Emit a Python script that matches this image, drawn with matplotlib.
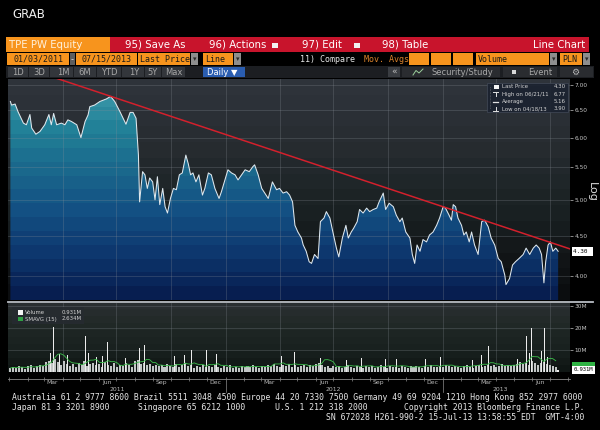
import numpy as np
import pandas as pd
import matplotlib
matplotlib.use('Agg')
import matplotlib.pyplot as plt
import matplotlib.dates as mdates
import matplotlib.transforms as mtransforms
from matplotlib.patches import Rectangle, Polygon
from matplotlib.ticker import FixedLocator, FuncFormatter, NullLocator
from matplotlib.colors import to_rgb
from matplotlib import font_manager

# ---- data (TPE PW Equity, daily, 01/03/2011 - 07/15/2013) ----
start = pd.Timestamp('2011-01-03')

# days since 2011-01-03, last price (PLN)
days = [0, 2, 8, 13, 22, 27, 33, 36, 43, 50,
        58, 65, 69, 73, 78, 86, 92, 97, 103, 112,
        119, 126, 131, 134, 142, 151, 162, 169, 176, 185,
        195, 202, 207, 212, 216, 218, 223, 227, 231, 235,
        240, 244, 248, 252, 257, 261, 265, 270, 275, 280,
        285, 290, 296, 300, 304, 308, 313, 318, 324, 328,
        334, 339, 345, 352, 356, 362, 367, 373, 379, 384,
        390, 396, 403, 409, 412, 418, 424, 429, 435, 442,
        449, 454, 460, 466, 471, 476, 480, 485, 491, 494,
        499, 504, 508, 513, 519, 523, 529, 533, 539, 544,
        550, 554, 560, 566, 570, 575, 579, 585, 589, 595,
        601, 606, 612, 618, 622, 629, 633, 639, 646, 651,
        657, 661, 667, 674, 678, 682, 686, 691, 696, 702,
        707, 713, 719, 724, 730, 734, 740, 744, 747, 751,
        755, 761, 765, 769, 774, 778, 783, 789, 795, 800,
        806, 811, 817, 823, 828, 834, 836, 842, 847, 852,
        858, 865, 870, 876, 882, 887, 892, 896, 900, 903,
        907, 911, 915, 920, 924]
prices = [6.67, 6.60, 6.62, 6.47, 6.26, 6.23, 6.42, 6.17, 6.06, 6.11,
          6.23, 6.42, 6.23, 6.44, 6.23, 6.26, 6.23, 6.32, 6.29, 6.23,
          6.00, 6.29, 6.41, 6.57, 6.60, 6.67, 6.72, 6.77, 6.67, 6.47,
          6.24, 6.46, 6.46, 6.35, 5.70, 4.97, 5.43, 5.38, 5.17, 5.33,
          5.27, 5.00, 5.35, 4.93, 5.17, 4.90, 4.81, 5.02, 5.17, 5.15,
          5.38, 5.41, 5.70, 5.56, 5.38, 5.41, 5.27, 5.38, 5.07, 5.17,
          5.41, 5.38, 5.17, 5.02, 5.12, 5.30, 5.46, 5.41, 5.38, 5.30,
          5.38, 5.46, 5.43, 5.51, 5.54, 5.38, 5.17, 5.10, 5.02, 5.27,
          5.15, 5.17, 5.10, 5.12, 5.07, 4.97, 4.64, 4.55, 4.47, 4.38,
          4.30, 4.17, 4.15, 4.26, 4.21, 4.69, 4.74, 4.83, 4.74, 4.55,
          4.34, 4.23, 4.47, 4.64, 4.47, 4.55, 4.60, 4.69, 4.86, 4.81,
          4.88, 4.83, 4.86, 4.88, 4.97, 5.10, 4.86, 4.95, 4.90, 4.78,
          4.69, 4.74, 4.55, 4.47, 4.26, 4.15, 4.38, 4.30, 4.45, 4.42,
          4.51, 4.55, 4.64, 4.74, 4.90, 4.88, 4.78, 4.71, 4.93, 4.90,
          4.74, 4.64, 4.51, 4.55, 4.42, 4.55, 4.38, 4.26, 4.69, 4.71,
          4.62, 4.47, 4.38, 4.21, 4.17, 4.01, 3.90, 3.97, 4.13, 4.17,
          4.21, 4.26, 4.34, 4.26, 4.34, 4.38, 4.34, 4.26, 3.92, 4.17,
          4.38, 4.42, 4.30, 4.34, 4.30]

# trend line drawn on the chart
trend_days = [75, 944]
trend_prices = [7.15, 4.33]

# legend figures
last_price = 4.30
high_label, high_val = 'High on 06/21/11', 6.77
avg_val = 5.16
low_label, low_val = 'Low on 04/18/13', 3.90

# volume (millions), every 5 days
grass_step = 5
grass_vol = [1.8, 2.4, 1.6, 2.9, 2.2, 1.5, 2.6, 3.1, 2.0, 2.7,
             3.4, 2.8, 4.6, 5.2, 3.9, 6.1, 4.4, 3.2, 4.8, 3.6,
             2.9, 3.8, 2.5, 4.1, 3.3, 5.0, 2.7, 3.5, 4.2, 3.0,
             3.6, 2.4, 4.4, 3.1, 2.8, 3.9, 2.2, 3.3, 2.6, 4.0,
             3.2, 2.5, 4.8, 5.5, 3.7, 4.2, 3.0, 3.8, 2.9, 3.4,
             2.6, 3.1, 2.2, 3.5, 2.8, 2.1, 3.6, 2.4, 3.0, 3.9,
             2.7, 3.3, 2.0, 2.9, 2.4, 3.4, 2.1, 2.8, 2.5, 3.2,
             2.3, 1.8, 2.7, 2.2, 3.0, 1.9, 2.5, 2.0, 2.8, 2.4,
             2.6, 2.1, 3.1, 2.4, 1.9, 2.8, 2.2, 3.3, 2.6, 3.6,
             2.9, 2.3, 3.4, 2.7, 3.8, 2.5, 3.2, 2.1, 2.8, 3.0,
             2.4, 3.1, 2.6, 3.7, 4.2, 3.3, 2.5, 2.9, 2.0, 2.6,
             2.2, 2.8, 1.9, 2.5, 3.1, 2.3, 1.8, 2.7, 2.4, 2.0,
             2.6, 2.1, 2.9, 1.8, 2.4, 3.0, 2.2, 1.9, 2.7, 2.3,
             2.5, 2.0, 2.8, 2.2, 1.7, 2.6, 2.1, 2.9, 2.4, 1.9,
             2.7, 2.2, 3.0, 2.5, 2.1, 2.8, 2.4, 3.2, 2.6, 2.3,
             2.8, 2.3, 2.0, 2.6, 3.1, 2.4, 1.9, 2.7, 3.3, 2.5,
             2.9, 3.4, 2.6, 3.0, 2.4, 2.8, 3.5, 2.7, 3.2, 2.9,
             3.1, 3.8, 4.5, 3.6, 4.2, 3.3, 4.8, 3.9, 3.4, 4.1,
             4.4, 3.7, 3.2, 2.8, 2.5]
# high-volume days
peak_days = [67, 73, 77, 83, 96, 126, 132, 145, 155, 164,
             195, 218, 227, 277, 293, 306, 331, 348, 443, 457,
             480, 523, 529, 567, 593, 632, 651, 700, 726, 780,
             795, 807, 856, 871, 876, 879, 896, 901, 906]
peak_vol = [8.6, 20.6, 19.0, 8.0, 7.6, 16.5, 8.6, 6.8, 7.5, 13.8,
            6.3, 10.8, 12.3, 7.5, 7.9, 10.0, 10.0, 8.0, 11.0, 7.5,
            9.2, 6.4, 28.2, 5.5, 6.4, 6.0, 6.0, 6.0, 7.0, 5.5,
            7.7, 12.0, 5.7, 16.5, 8.6, 19.9, 9.5, 19.9, 7.0]
last_volume = 0.931
smavg_last = 2.634

price_ticks = [4.00, 4.50, 5.00, 5.50, 6.00, 6.50, 7.00]
vol_ticks = [10, 20, 30]

# ---- helpers ----
W, H = 600, 430
avail = {f.name for f in font_manager.fontManager.ttflist}
narrow = 'Liberation Sans Narrow' in avail
bar_font = 'Liberation Sans Narrow' if narrow else 'DejaVu Sans'
bar_size = 8.8 if narrow else 7.3
MONO = 'DejaVu Sans Mono'
ORANGE = '#f7941d'


def px_rect(x0, y0, x1, y1):
    return [x0 / W, 1 - y1 / H, (x1 - x0) / W, (y1 - y0) / H]


def grad(stops, bands):
    pos = np.array([s[0] for s in stops])
    cols = np.array([to_rgb(s[1]) for s in stops])
    t = (np.arange(bands) + 0.5) / bands
    img = np.stack([np.interp(t, pos, cols[:, k]) for k in range(3)], axis=-1)
    return img[:, None, :]


def to_num(d):
    return mdates.date2num(start + pd.to_timedelta(np.asarray(d), unit='D'))


x_p = to_num(days)
x_lo, x_hi = to_num([-4, 944])

fig = plt.figure(figsize=(6, 4.3), dpi=100, facecolor='black')

# ---- price panel ----
ax = fig.add_axes(px_rect(8, 79, 570, 300))
ax.set_yscale('log')
ax.set_xlim(x_lo, x_hi)
ax.set_ylim(3.728, 7.124)
ax.set_autoscale_on(False)
for s in ax.spines.values():
    s.set_visible(False)

bg = grad([(0, '#30353c'), (0.3, '#272c31'), (0.55, '#1c2325'),
           (0.8, '#121618'), (1, '#0a0c0e')], 14)
ax.imshow(bg, extent=(0, 1, 0, 1), transform=ax.transAxes, aspect='auto',
          interpolation='nearest', origin='upper', zorder=0)

fill = grad([(0, '#3f9cac'), (0.07, '#3795a7'), (0.23, '#218097'),
             (0.41, '#1a688c'), (0.59, '#145184'), (0.77, '#0e3970'),
             (1, '#061a4b')], 16)
im = ax.imshow(fill, extent=(0, 1, 0, 1), transform=ax.transAxes, aspect='auto',
               interpolation='nearest', origin='upper', zorder=1)
verts = np.column_stack([np.r_[x_p[0], x_p, x_p[-1]], np.r_[1.0, prices, 1.0]])
clip = Polygon(verts, closed=True, transform=ax.transData)
im.set_clip_path(clip)

grid_kw = dict(color='#8a9098', lw=0.6, alpha=0.3, zorder=2)
for v in price_ticks:
    ax.axhline(v, **grid_kw)
quarters = mdates.date2num(pd.date_range('2011-04-01', '2013-07-01', freq='QS'))
for q in quarters:
    ax.axvline(q, **grid_kw)

ax.plot(x_p, prices, color='#dfe8ee', lw=0.75, zorder=3)
ax.plot(to_num(trend_days), trend_prices, color='#d3202c', lw=1.1, zorder=4)

ax.yaxis.set_major_locator(FixedLocator(price_ticks))
ax.yaxis.set_minor_locator(NullLocator())
ax.yaxis.set_major_formatter(FuncFormatter(lambda v, p: f'{v:.2f}'))
ax.tick_params(axis='y', which='major', left=False, labelleft=False, right=True,
               labelright=True, length=2.2, width=0.6, color='#a0a0a0',
               labelsize=4.2, labelcolor='#c4c4c4', pad=1.0)
ax.tick_params(axis='x', which='both', bottom=False, labelbottom=False)

blend_p = mtransforms.blended_transform_factory(ax.transAxes, ax.transData)
ax.text(1.006, last_price, f'{last_price:.2f} ', transform=blend_p, fontsize=4.3,
        color='black', ha='left', va='center', family=MONO, clip_on=False, zorder=6,
        bbox=dict(boxstyle='square,pad=0.3', fc='white', ec='none'))

# ---- volume panel ----
av = fig.add_axes(px_rect(8, 303, 570, 372), sharex=ax)
av.set_xlim(x_lo, x_hi)
av.set_ylim(0, 31.4)
av.set_autoscale_on(False)
for k in ('top', 'left', 'right'):
    av.spines[k].set_visible(False)
vbg = grad([(0, '#2b2f33'), (0.35, '#202826'), (0.7, '#18201e'), (1, '#0e1412')], 10)
av.imshow(vbg, extent=(0, 1, 0, 1), transform=av.transAxes, aspect='auto',
          interpolation='nearest', origin='upper', zorder=0)
for v in vol_ticks:
    av.axhline(v, **grid_kw)
for q in quarters:
    av.axvline(q, **grid_kw)

grass_days = np.arange(0, len(grass_vol) * grass_step, grass_step)
av.bar(to_num(grass_days), grass_vol, width=3.4, color='#c2c6c6', lw=0, zorder=2)
av.bar(to_num(peak_days), peak_vol, width=1.6, color='#ececec', lw=0, zorder=3)
av.bar(to_num([days[-1]]), [last_volume], width=2.2, color='#ececec', lw=0, zorder=3)

# 15-day average: baseline volume plus high-volume days spread over 15 sessions
g = pd.Series(grass_vol, index=start + pd.to_timedelta(grass_days, unit='D'))
g_mean = g.rolling('21D').mean()
pk_days = np.asarray(peak_days)
pk_vol = np.asarray(peak_vol)
extra = np.array([pk_vol[(pk_days <= d) & (pk_days > d - 21)].sum() for d in grass_days])
smavg = g_mean.values + extra / 15.0
av.plot(to_num(grass_days), smavg, color='#3cbf4c', lw=0.6, zorder=4)

av.yaxis.set_major_locator(FixedLocator(vol_ticks))
av.yaxis.set_major_formatter(FuncFormatter(lambda v, p: f'{v:.0f}M'))
av.tick_params(axis='y', which='major', left=False, labelleft=False, right=True,
               labelright=True, length=2.2, width=0.6, color='#a0a0a0',
               labelsize=4.2, labelcolor='#c4c4c4', pad=1.0)

av.spines['bottom'].set_position(('outward', 5))
av.spines['bottom'].set_color('#8a8a8a')
av.spines['bottom'].set_linewidth(0.6)
av.xaxis.set_major_locator(mdates.MonthLocator(bymonth=[3, 6, 9, 12], bymonthday=15))
av.xaxis.set_major_formatter(mdates.DateFormatter('%b'))
av.xaxis.set_minor_locator(mdates.MonthLocator())
av.tick_params(axis='x', which='major', length=0, labelsize=4.4,
               labelcolor='#b8b8b8', pad=0.6)
av.tick_params(axis='x', which='minor', length=2.5, width=0.5,
               direction='inout', color='#8a8a8a')

blend_x = mtransforms.blended_transform_factory(av.transData, av.transAxes)
end_date = start + pd.Timedelta(days=days[-1])
for yr in (2011, 2012, 2013):
    a = max(start, pd.Timestamp(f'{yr}-01-01'))
    b = min(end_date, pd.Timestamp(f'{yr}-12-31'))
    c = a + (b - a) / 2
    av.text(mdates.date2num(c), -0.25, str(yr), transform=blend_x, fontsize=4.4,
            color='#b8b8b8', ha='center', va='center')
    if yr > 2011:
        xs = mdates.date2num(pd.Timestamp(f'{yr}-01-01'))
        av.plot([xs, xs], [-0.13, -0.29], transform=blend_x, color='#8a8a8a',
                lw=0.5, clip_on=False)

blend_v = mtransforms.blended_transform_factory(av.transAxes, av.transData)
av.text(1.006, smavg_last, '      ', transform=blend_v, fontsize=4.0, family=MONO,
        ha='left', va='center', clip_on=False, zorder=6,
        bbox=dict(boxstyle='square,pad=0.3', fc='#2fb344', ec='none'))
av.text(1.006, last_volume, f'{last_volume:.3f}M', transform=blend_v, fontsize=4.0,
        color='black', family=MONO, ha='left', va='center', clip_on=False, zorder=7,
        bbox=dict(boxstyle='square,pad=0.3', fc='white', ec='none'))

# ---- screen furniture (pixel coordinates) ----
ui = fig.add_axes([0, 0, 1, 1], zorder=5)
ui.set_xlim(0, W)
ui.set_ylim(H, 0)
ui.axis('off')
ui.patch.set_visible(False)


def box(x0, y0, x1, y1, fc, ec='none', lw=0, alpha=1.0):
    ui.add_patch(Rectangle((x0, y0), x1 - x0, y1 - y0, facecolor=fc,
                           edgecolor=ec, linewidth=lw, alpha=alpha))


def txt(x, y, s, size=6, color='white', ha='left', family='DejaVu Sans', **kw):
    ui.text(x, y, s, fontsize=size, color=color, ha=ha, va='center',
            family=family, **kw)


txt(12, 15, 'GRAB', 8.5, '#f0f0f0')

# row 1
box(6, 37, 110, 52, ORANGE)
txt(9, 44.8, 'TPE PW Equity', bar_size, '#fff1dc', family=bar_font)
box(110, 37, 589, 52, '#c8142c')
txt(125, 44.8, '95) Save As', bar_size, family=bar_font)
txt(209, 44.8, '96) Actions', bar_size, family=bar_font)
box(272, 42.5, 278, 47.5, '#f2f2f2')
txt(302, 44.8, '97) Edit', bar_size, family=bar_font)
box(354, 42.5, 360, 47.5, '#f2f2f2')
txt(382, 44.8, '98) Table', bar_size, family=bar_font)
txt(585, 44.8, 'Line Chart', bar_size, ha='right', family=bar_font)

# row 2
r2 = 59.2
box(7, 53, 69, 65, ORANGE)
txt(38, r2, '01/03/2011', 6.0, '#1a1a1a', ha='center', family=MONO)
box(70, 53, 75, 65, '#5e5e5e')
txt(72.5, r2, '-', 6.0, '#e0e0e0', ha='center', family=MONO)
box(76, 53, 137, 65, ORANGE)
txt(106.5, r2, '07/15/2013', 6.0, '#1a1a1a', ha='center', family=MONO)
box(138, 53, 190, 65, ORANGE)
txt(140, r2, 'Last Price', 6.0, '#1a1a1a', family=MONO)
box(203, 53, 233, 65, ORANGE)
txt(205, r2, 'Line', 6.0, '#1a1a1a', family=MONO)
box(409, 53, 429, 65, ORANGE)
box(431, 53, 451, 65, ORANGE)
box(453, 53, 473, 65, ORANGE)
box(476, 53, 549, 65, ORANGE)
txt(478, r2, 'Volume', 6.0, '#1a1a1a', family=MONO)
box(560, 53, 582, 65, ORANGE)
txt(562, r2, 'PLN', 6.0, '#1a1a1a', family=MONO)
for x0 in (191, 234, 550, 583):
    box(x0, 53, x0 + 7, 65, '#8e8e8e')
    txt(x0 + 3.5, r2, '▾', 5, '#2a2a2a', ha='center')
txt(300, r2, '11) Compare', 6.0, '#e8e8e8', family=MONO)
txt(364, r2, 'Mov. Avgs', 6.0, '#d9822b', family=MONO)

# row 3
r3 = 72.2
box(6, 66, 594, 78, '#1c1e22')
buttons = [('1D', 18), ('3D', 39), ('1M', 63), ('6M', 85), ('YTD', 109),
           ('1Y', 134), ('5Y', 153), ('Max', 174)]
edges = [8, 29, 50, 74, 97, 122, 145, 162, 186]
for (lab, cx), x0, x1 in zip(buttons, edges[:-1], edges[1:]):
    box(x0, 67, x1 - 1, 77, '#33363b')
    txt(cx, r3, lab, 6.0, '#a8a8a8', ha='center', family=bar_font)
box(203, 67, 245, 77, '#2a5db0')
txt(207, r3, 'Daily ▼', 6.0, 'white', family=bar_font)
box(388, 67, 400, 77, '#3a3d42')
txt(394, r3 - 0.5, '«', 6.5, '#c0c0c0', ha='center')
box(402, 67, 500, 77, '#2a2c30')
ui.plot([413, 416, 419, 423], [75, 70.5, 73, 69], color='#9ccf9c', lw=0.7)
txt(432, r3, 'Security/Study', 6.0, '#a8a8a8', family=bar_font)
box(503, 67, 557, 77, '#2a2c30')
box(512, 69.5, 516, 73.5, '#d8d8d8')
txt(528, r3, 'Event', 6.0, '#a8a8a8', family=bar_font)
box(560, 67, 593, 77, '#2a2c30')
txt(575, r3, '⚙', 6.5, '#b8b8b8', ha='center')

# price legend
box(487, 83, 568, 112, '#1b2230', ec='#454d5b', lw=0.5, alpha=0.92)
leg_rows = [(86.7, 'Last Price', f'{last_price:.2f}'),
            (94.3, high_label, f'{high_val:.2f}'),
            (101.7, 'Average', f'{avg_val:.2f}'),
            (109.0, low_label, f'{low_val:.2f}')]
for y, lab, val in leg_rows:
    txt(501.5, y, lab, 3.9, '#d2d2d2')
    txt(566, y, val, 3.9, '#d2d2d2', ha='right')
ui.plot([490, 490], [87, 109], color='#9a9a9a', lw=0.4, ls=':')
box(494, 84.5, 499, 89.0, '#f4f4f4')
ui.plot([493, 498], [92.2, 92.2], color='#e0e0e0', lw=0.7)
ui.plot([495.5, 495.5], [92.2, 96.2], color='#e0e0e0', lw=0.7)
ui.plot([493, 498], [101.7, 101.7], color='#e0e0e0', lw=0.9)
ui.plot([495.5, 495.5], [106.5, 110.5], color='#e0e0e0', lw=0.7)
ui.plot([493, 498], [110.5, 110.5], color='#e0e0e0', lw=0.7)

# volume legend
box(12, 307, 84, 324, '#262b30', alpha=0.92)
box(18, 309.8, 23, 314.6, '#f4f4f4')
box(18, 316.5, 23, 321.3, '#2ea043')
txt(25, 312.3, 'Volume', 3.9, '#d2d2d2')
txt(82, 312.3, f'{last_volume:.3f}M', 3.9, '#d2d2d2', ha='right')
txt(25, 319, 'SMAVG (15)', 3.9, '#d2d2d2')
txt(82, 319, f'{smavg_last:.3f}M', 3.9, '#d2d2d2', ha='right')

ui.plot([8, 593], [301.5, 301.5], color='#b9bdc4', lw=1.3)
ui.text(592, 192, 'Log', rotation=270, fontsize=8, color='#dcdcdc',
        ha='center', va='center')

# footer
fc = '#e6e6e6'
fs = 5.85
txt(12, 398, 'Australia 61 2 9777 8600 Brazil 5511 3048 4500 Europe 44 20 7330 7500 '
    'Germany 49 69 9204 1210 Hong Kong 852 2977 6000', fs, fc, family=MONO)
txt(12, 407.5, 'Japan 81 3 3201 8900', fs, fc, family=MONO)
txt(138, 407.5, 'Singapore 65 6212 1000', fs, fc, family=MONO)
txt(275, 407.5, 'U.S. 1 212 318 2000', fs, fc, family=MONO)
txt(584, 407.5, 'Copyright 2013 Bloomberg Finance L.P.', fs, fc, ha='right', family=MONO)
txt(584, 417, 'SN 672028 H261-990-2 15-Jul-13 13:58:55 EDT  GMT-4:00', fs, fc,
    ha='right', family=MONO)

fig.savefig('out.png', dpi=100, facecolor='black')
